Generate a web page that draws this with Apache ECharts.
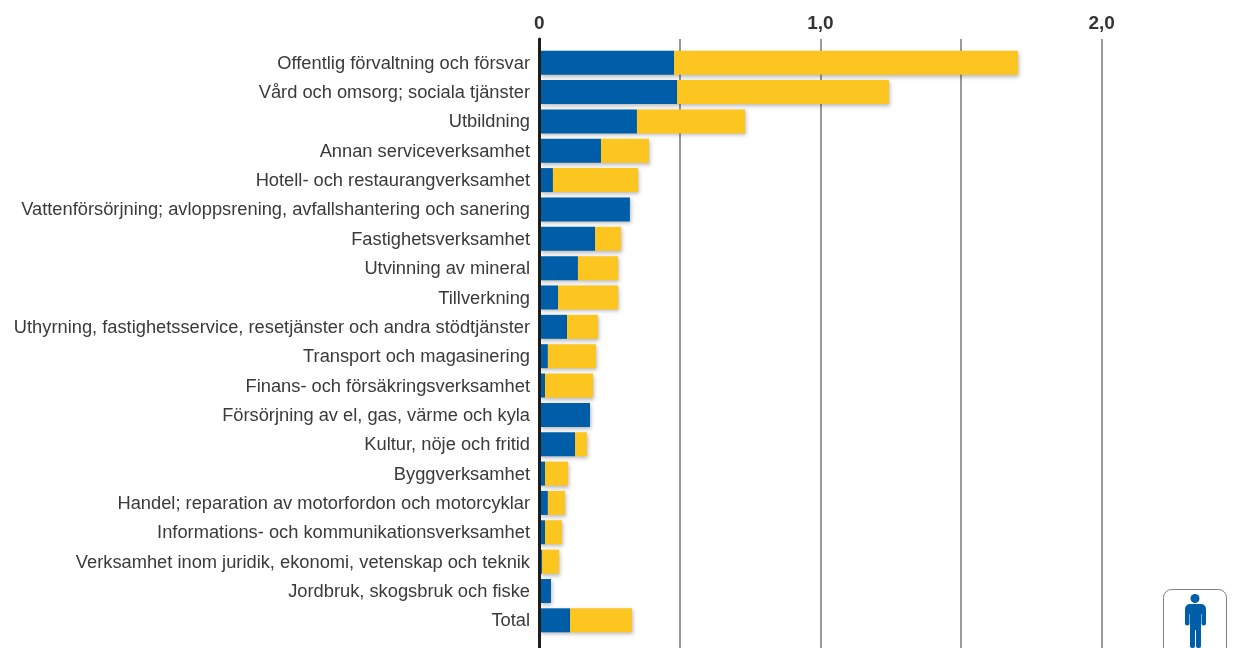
<!DOCTYPE html>
<html lang="sv">

<head>
    <meta charset="UTF-8">
    <title>Diagram</title>
    <script src="https://cdn.jsdelivr.net/npm/echarts@6/dist/echarts.min.js"></script>
    <style>
        html, body { margin: 0; padding: 0; background: #fff; }
    </style>
</head>

<body>
    <div id="chart" style="width: 1233px; height: 648px;"></div>
    <script>
        const categories = [
            'Offentlig förvaltning och försvar',
            'Vård och omsorg; sociala tjänster',
            'Utbildning',
            'Annan serviceverksamhet',
            'Hotell- och restaurangverksamhet',
            'Vattenförsörjning; avloppsrening, avfallshantering och sanering',
            'Fastighetsverksamhet',
            'Utvinning av mineral',
            'Tillverkning',
            'Uthyrning, fastighetsservice, resetjänster och andra stödtjänster',
            'Transport och magasinering',
            'Finans- och försäkringsverksamhet',
            'Försörjning av el, gas, värme och kyla',
            'Kultur, nöje och fritid',
            'Byggverksamhet',
            'Handel; reparation av motorfordon och motorcyklar',
            'Informations- och kommunikationsverksamhet',
            'Verksamhet inom juridik, ekonomi, vetenskap och teknik',
            'Jordbruk, skogsbruk och fiske',
            'Total'
        ];
        const blueValues = [0.477, 0.488, 0.345, 0.217, 0.046, 0.32, 0.196, 0.135, 0.064, 0.096, 0.028, 0.018, 0.178, 0.125, 0.018, 0.028, 0.018, 0.007, 0.039, 0.107];
        const yellowValues = [1.224, 0.754, 0.385, 0.171, 0.303, 0, 0.092, 0.143, 0.214, 0.11, 0.171, 0.171, 0, 0.042, 0.082, 0.061, 0.06, 0.061, 0, 0.22];
        const tickLabels = { 0: '0', 1: '1,0', 2: '2,0' };

        const chart = echarts.init(document.getElementById('chart'));
        const fontName = '"Liberation Sans", Arial, sans-serif';
        const barShadow = {
            shadowColor: 'rgba(0,0,0,0.28)',
            shadowBlur: 4,
            shadowOffsetX: 1,
            shadowOffsetY: 2
        };
        const iconBlue = { fill: '#005ea8' };

        chart.setOption({
            animation: false,
            // grid 0 = grid lines and zero line, grid 1 = the bars (shorter than the lines)
            grid: [
                { left: 539.2, top: 39, width: 562.4, height: 609 },
                { left: 540, top: 48, width: 562, height: 587 }
            ],
            xAxis: [
                {
                    gridIndex: 0,
                    type: 'value',
                    position: 'top',
                    min: 0,
                    max: 2,
                    interval: 0.5,
                    axisLine: { show: false },
                    axisTick: { show: false },
                    axisLabel: {
                        margin: 6,
                        color: '#333',
                        fontFamily: fontName,
                        fontSize: 19,
                        fontWeight: 'bold',
                        formatter: v => tickLabels[v] || ''
                    },
                    splitLine: { show: true, lineStyle: { color: '#9a9a9a', width: 2 } }
                },
                {
                    gridIndex: 1,
                    type: 'value',
                    min: 0,
                    max: 2,
                    show: false
                }
            ],
            yAxis: [
                {
                    gridIndex: 0,
                    type: 'category',
                    data: [''],
                    z: 5,
                    axisLine: { show: true, lineStyle: { color: '#1d1d1b', width: 3 } },
                    axisTick: { show: false },
                    axisLabel: { show: false }
                },
                {
                    gridIndex: 1,
                    type: 'category',
                    inverse: true,
                    data: categories,
                    axisLine: { show: false },
                    axisTick: { show: false },
                    axisLabel: {
                        interval: 0,
                        margin: 10,
                        verticalAlign: 'top',
                        lineHeight: 2,
                        color: '#3a3a3a',
                        fontFamily: fontName,
                        fontSize: 18.3
                    }
                }
            ],
            series: [
                {
                    type: 'bar',
                    stack: 'total',
                    xAxisIndex: 1,
                    yAxisIndex: 1,
                    data: blueValues,
                    barWidth: 24,
                    itemStyle: { color: '#005ea8', ...barShadow }
                },
                {
                    type: 'bar',
                    stack: 'total',
                    xAxisIndex: 1,
                    yAxisIndex: 1,
                    data: yellowValues,
                    barWidth: 24,
                    itemStyle: { color: '#fdc520', ...barShadow }
                }
            ],
            // person icon in the corner
            graphic: [
                { type: 'rect', shape: { x: 1163.5, y: 589.5, width: 63, height: 70, r: 8 }, style: { fill: '#fff', stroke: '#808080', lineWidth: 1 } },
                { type: 'circle', shape: { cx: 1195, cy: 598.5, r: 4.5 }, style: iconBlue },
                { type: 'rect', shape: { x: 1185, y: 604, width: 21, height: 10, r: [5, 5, 0, 0] }, style: iconBlue },
                { type: 'rect', shape: { x: 1185, y: 609, width: 4.5, height: 16.5, r: 2 }, style: iconBlue },
                { type: 'rect', shape: { x: 1201.5, y: 609, width: 4.5, height: 16.5, r: 2 }, style: iconBlue },
                { type: 'rect', shape: { x: 1190, y: 604, width: 11, height: 26 }, style: iconBlue },
                { type: 'rect', shape: { x: 1190, y: 624, width: 5, height: 24, r: 2 }, style: iconBlue },
                { type: 'rect', shape: { x: 1196, y: 624, width: 5, height: 24, r: 2 }, style: iconBlue }
            ]
        });
    </script>
</body>

</html>
